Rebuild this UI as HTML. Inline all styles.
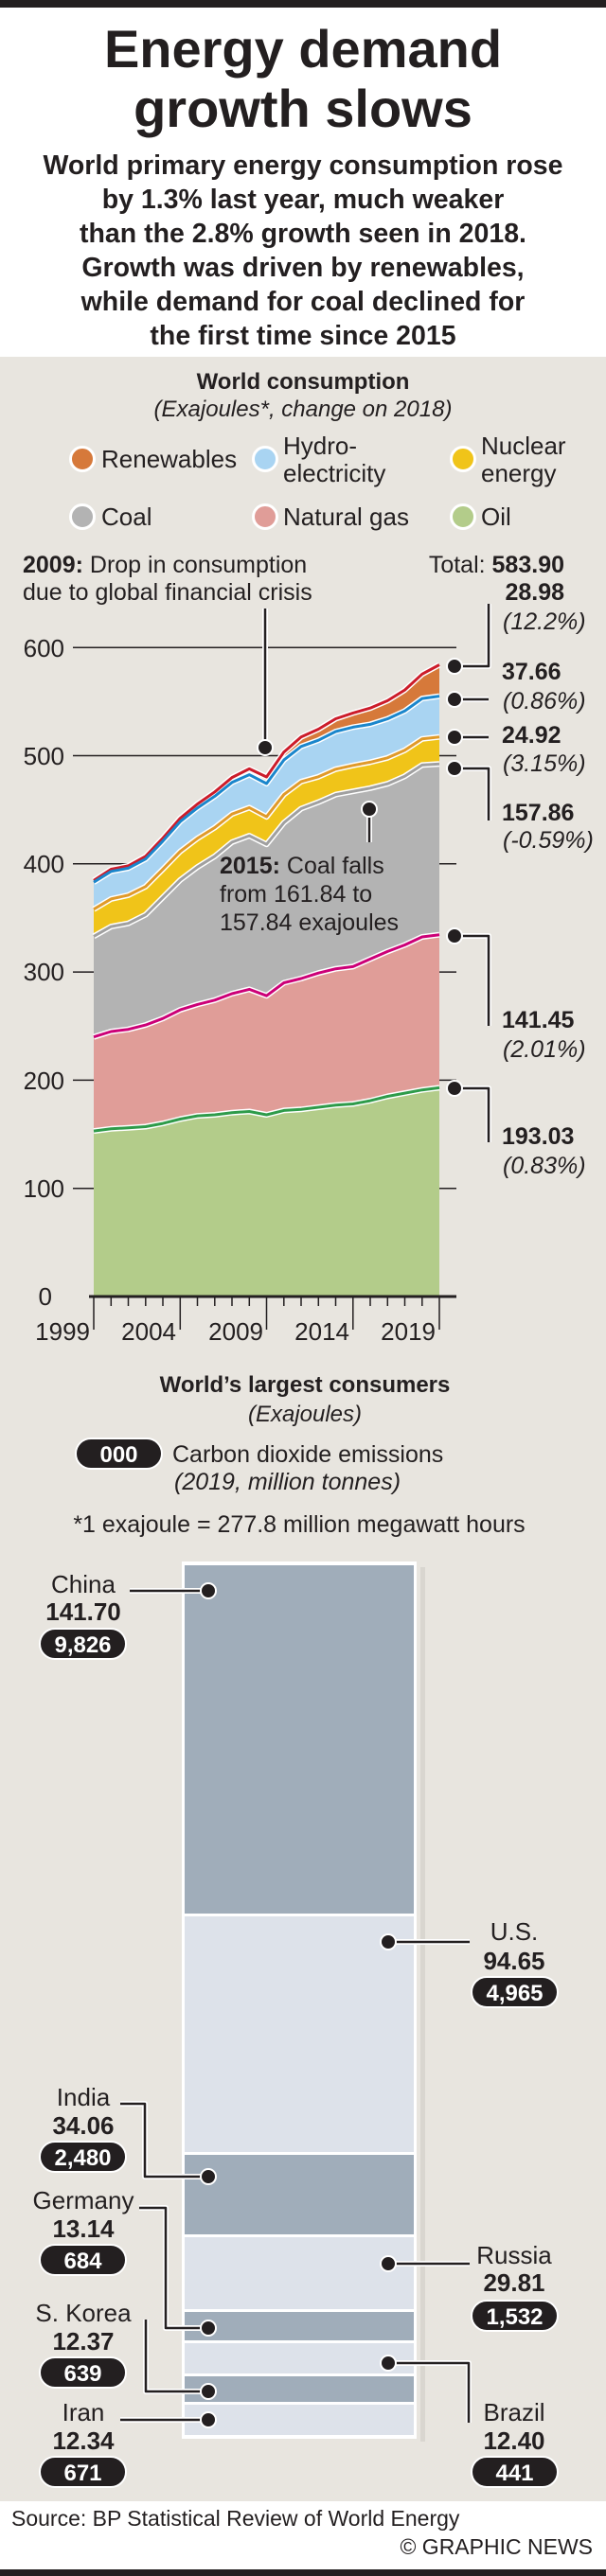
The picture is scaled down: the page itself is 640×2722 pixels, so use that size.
<!DOCTYPE html>
<html><head><meta charset="utf-8"><style>
html,body{margin:0;padding:0;background:#fff}
svg{display:block}
text{font-family:"Liberation Sans",Arial,sans-serif;fill:#231f20}
.b{font-weight:bold}
.i{font-style:italic}
</style></head><body>
<svg width="640" height="2722" viewBox="0 0 640 2722" xmlns="http://www.w3.org/2000/svg">
<rect x="0" y="0" width="640" height="2722" fill="#fff"/>
<rect x="0" y="0" width="640" height="8" fill="#231f20"/>
<rect x="0" y="377" width="640" height="2266" fill="#e8e5df"/>
<rect x="0" y="2715" width="640" height="7" fill="#231f20"/>

<!-- Title -->
<text x="320" y="71" text-anchor="middle" class="b" font-size="56">Energy demand</text>
<text x="320" y="134" text-anchor="middle" class="b" font-size="56">growth slows</text>
<g class="b" font-size="28.5" text-anchor="middle">
<text x="320" y="184" class="b">World primary energy consumption rose</text>
<text x="320" y="220" class="b">by 1.3% last year, much weaker</text>
<text x="320" y="256" class="b">than the 2.8% growth seen in 2018.</text>
<text x="320" y="292" class="b">Growth was driven by renewables,</text>
<text x="320" y="328" class="b">while demand for coal declined for</text>
<text x="320" y="364" class="b">the first time since 2015</text>
</g>

<!-- Chart header -->
<text x="320" y="411" text-anchor="middle" class="b" font-size="24">World consumption</text>
<text x="320" y="440" text-anchor="middle" class="i" font-size="24">(Exajoules*, change on 2018)</text>

<!-- Legend -->
<g stroke="#fff" stroke-width="3">
<circle cx="87" cy="485" r="12.5" fill="#d6793a"/>
<circle cx="280" cy="485" r="12.5" fill="#a9d4f2"/>
<circle cx="489" cy="485" r="12.5" fill="#f0c419"/>
<circle cx="87" cy="546" r="12.5" fill="#b3b3b3"/>
<circle cx="280" cy="546" r="12.5" fill="#e09d98"/>
<circle cx="489" cy="546" r="12.5" fill="#b3cc8a"/>
</g>
<g font-size="26">
<text x="107" y="494">Renewables</text>
<text x="299" y="480">Hydro-</text>
<text x="299" y="509">electricity</text>
<text x="508" y="480">Nuclear</text>
<text x="508" y="509">energy</text>
<text x="107" y="555">Coal</text>
<text x="299" y="555">Natural gas</text>
<text x="508" y="555">Oil</text>
</g>

<!-- annotations text -->
<g font-size="25">
<text x="24" y="605"><tspan class="b">2009:</tspan> Drop in consumption</text>
<text x="24" y="634">due to global financial crisis</text>
<text x="596" y="605" text-anchor="end">Total: <tspan class="b">583.90</tspan></text>
</g>

<!-- gridlines -->
<g stroke="#231f20" stroke-width="1.5">
<line x1="77" y1="684.2" x2="482" y2="684.2"/>
<line x1="77" y1="798.5" x2="482" y2="798.5"/>
<line x1="77" y1="912.8" x2="482" y2="912.8"/>
<line x1="77" y1="1027.1" x2="482" y2="1027.1"/>
<line x1="77" y1="1141.4" x2="482" y2="1141.4"/>
<line x1="77" y1="1255.7" x2="482" y2="1255.7"/>
</g>
<g font-size="26" text-anchor="end">
<text x="68" y="694">600</text>
<text x="68" y="808">500</text>
<text x="68" y="922">400</text>
<text x="68" y="1036">300</text>
<text x="68" y="1151">200</text>
<text x="68" y="1265">100</text>
<text x="55" y="1379">0</text>
</g>

<!-- areas -->
<path fill="#d6793a" d="M99,1370 L99,930.4 117.3,918.5 135.5,914.9 153.8,904.8 172,885.6 190.3,864.6 208.5,849.6 226.8,836.8 245,821.6 263.3,812.4 281.5,821 299.8,794.7 318,778.8 336.3,770.5 354.5,759.5 372.8,753.4 391,748.2 409.3,740.4 427.5,729.1 445.8,712.3 464,702.5 L464,1370 Z"/>
<path fill="#a9d4f2" d="M99,1370 L99,932.2 117.3,920.8 135.5,917.4 153.8,907.7 172,888.8 190.3,868.2 208.5,853.7 226.8,841.4 245,826.8 263.3,818.6 281.5,828 299.8,803.1 318,788.8 336.3,782.2 354.5,773 372.8,768.4 391,765.4 409.3,759.6 427.5,751.3 445.8,738.1 464,735.6 L464,1370 Z"/>
<path fill="#f0c419" d="M99,1370 L99,960.8 117.3,949.9 135.5,945.9 153.8,936.8 172,918.5 190.3,899.7 208.5,885.9 226.8,874.5 245,860.2 263.3,853.4 281.5,863.1 299.8,839.6 318,825.9 336.3,820.8 354.5,812.8 372.8,808.8 391,805.4 409.3,800.8 427.5,792.8 445.8,780.8 464,778.7 L464,1370 Z"/>
<path fill="#b3b3b3" d="M99,1370 L99,989.4 117.3,979.1 135.5,975.7 153.8,966.5 172,948.2 190.3,929.9 208.5,916.2 226.8,904.8 245,889.9 263.3,883.1 281.5,892.2 299.8,869.4 318,854.5 336.3,847.6 354.5,839.6 372.8,836.2 391,832.8 409.3,828.2 427.5,820.2 445.8,808.4 464,807.2 L464,1370 Z"/>
<path fill="#e09d98" d="M99,1370 L99,1095.7 117.3,1090 135.5,1087.7 153.8,1083.1 172,1076.2 190.3,1067.1 208.5,1061.4 226.8,1056.8 245,1050 263.3,1045.4 281.5,1052.2 299.8,1038.5 318,1034 336.3,1028.2 354.5,1023.7 372.8,1021.4 391,1013.4 409.3,1005.4 427.5,998.5 445.8,990 464,987.7 L464,1370 Z"/>
<path fill="#b3cc8a" d="M99,1370 L99,1195.1 117.3,1192.8 135.5,1191.7 153.8,1190.5 172,1187.1 190.3,1182.5 208.5,1179.1 226.8,1178 245,1175.7 263.3,1174.5 281.5,1178 299.8,1173.4 318,1172.3 336.3,1170 354.5,1167.7 372.8,1166.5 391,1163.1 409.3,1158.5 427.5,1155.1 445.8,1151.7 464,1149.4 L464,1370 Z"/>

<!-- lines -->
<g fill="none" stroke-linejoin="round">
<g stroke="#fff" stroke-width="6">
<polyline points="99,930.4 117.3,918.5 135.5,914.9 153.8,904.8 172,885.6 190.3,864.6 208.5,849.6 226.8,836.8 245,821.6 263.3,812.4 281.5,821 299.8,794.7 318,778.8 336.3,770.5 354.5,759.5 372.8,753.4 391,748.2 409.3,740.4 427.5,729.1 445.8,712.3 464,702.5"/>
<polyline points="99,932.2 117.3,920.8 135.5,917.4 153.8,907.7 172,888.8 190.3,868.2 208.5,853.7 226.8,841.4 245,826.8 263.3,818.6 281.5,828 299.8,803.1 318,788.8 336.3,782.2 354.5,773 372.8,768.4 391,765.4 409.3,759.6 427.5,751.3 445.8,738.1 464,735.6"/>
<polyline points="99,960.8 117.3,949.9 135.5,945.9 153.8,936.8 172,918.5 190.3,899.7 208.5,885.9 226.8,874.5 245,860.2 263.3,853.4 281.5,863.1 299.8,839.6 318,825.9 336.3,820.8 354.5,812.8 372.8,808.8 391,805.4 409.3,800.8 427.5,792.8 445.8,780.8 464,778.7"/>
<polyline points="99,989.4 117.3,979.1 135.5,975.7 153.8,966.5 172,948.2 190.3,929.9 208.5,916.2 226.8,904.8 245,889.9 263.3,883.1 281.5,892.2 299.8,869.4 318,854.5 336.3,847.6 354.5,839.6 372.8,836.2 391,832.8 409.3,828.2 427.5,820.2 445.8,808.4 464,807.2"/>
<polyline points="99,1095.7 117.3,1090 135.5,1087.7 153.8,1083.1 172,1076.2 190.3,1067.1 208.5,1061.4 226.8,1056.8 245,1050 263.3,1045.4 281.5,1052.2 299.8,1038.5 318,1034 336.3,1028.2 354.5,1023.7 372.8,1021.4 391,1013.4 409.3,1005.4 427.5,998.5 445.8,990 464,987.7"/>
<polyline points="99,1195.1 117.3,1192.8 135.5,1191.7 153.8,1190.5 172,1187.1 190.3,1182.5 208.5,1179.1 226.8,1178 245,1175.7 263.3,1174.5 281.5,1178 299.8,1173.4 318,1172.3 336.3,1170 354.5,1167.7 372.8,1166.5 391,1163.1 409.3,1158.5 427.5,1155.1 445.8,1151.7 464,1149.4"/>
</g>
<g stroke-width="3">
<polyline stroke="#cc1c2a" points="99,930.4 117.3,918.5 135.5,914.9 153.8,904.8 172,885.6 190.3,864.6 208.5,849.6 226.8,836.8 245,821.6 263.3,812.4 281.5,821 299.8,794.7 318,778.8 336.3,770.5 354.5,759.5 372.8,753.4 391,748.2 409.3,740.4 427.5,729.1 445.8,712.3 464,702.5"/>
<polyline stroke="#1a86cc" points="99,932.2 117.3,920.8 135.5,917.4 153.8,907.7 172,888.8 190.3,868.2 208.5,853.7 226.8,841.4 245,826.8 263.3,818.6 281.5,828 299.8,803.1 318,788.8 336.3,782.2 354.5,773 372.8,768.4 391,765.4 409.3,759.6 427.5,751.3 445.8,738.1 464,735.6"/>
<polyline stroke="#e09a2a" points="99,960.8 117.3,949.9 135.5,945.9 153.8,936.8 172,918.5 190.3,899.7 208.5,885.9 226.8,874.5 245,860.2 263.3,853.4 281.5,863.1 299.8,839.6 318,825.9 336.3,820.8 354.5,812.8 372.8,808.8 391,805.4 409.3,800.8 427.5,792.8 445.8,780.8 464,778.7"/>
<polyline stroke="#a0a0a0" points="99,989.4 117.3,979.1 135.5,975.7 153.8,966.5 172,948.2 190.3,929.9 208.5,916.2 226.8,904.8 245,889.9 263.3,883.1 281.5,892.2 299.8,869.4 318,854.5 336.3,847.6 354.5,839.6 372.8,836.2 391,832.8 409.3,828.2 427.5,820.2 445.8,808.4 464,807.2"/>
<polyline stroke="#cc0077" points="99,1095.7 117.3,1090 135.5,1087.7 153.8,1083.1 172,1076.2 190.3,1067.1 208.5,1061.4 226.8,1056.8 245,1050 263.3,1045.4 281.5,1052.2 299.8,1038.5 318,1034 336.3,1028.2 354.5,1023.7 372.8,1021.4 391,1013.4 409.3,1005.4 427.5,998.5 445.8,990 464,987.7"/>
<polyline stroke="#2e9b4a" points="99,1195.1 117.3,1192.8 135.5,1191.7 153.8,1190.5 172,1187.1 190.3,1182.5 208.5,1179.1 226.8,1178 245,1175.7 263.3,1174.5 281.5,1178 299.8,1173.4 318,1172.3 336.3,1170 354.5,1167.7 372.8,1166.5 391,1163.1 409.3,1158.5 427.5,1155.1 445.8,1151.7 464,1149.4"/>
</g>
</g>

<!-- x axis -->
<g stroke="#231f20">
<line x1="94" y1="1370" x2="482" y2="1370" stroke-width="3"/>
<g stroke-width="1.5">
<line x1="99" y1="1370" x2="99" y2="1405"/><line x1="190.3" y1="1370" x2="190.3" y2="1405"/><line x1="281.5" y1="1370" x2="281.5" y2="1405"/><line x1="372.8" y1="1370" x2="372.8" y2="1405"/><line x1="464" y1="1370" x2="464" y2="1405"/>
<line x1="117.3" y1="1370" x2="117.3" y2="1380"/><line x1="135.5" y1="1370" x2="135.5" y2="1380"/><line x1="153.8" y1="1370" x2="153.8" y2="1380"/><line x1="172" y1="1370" x2="172" y2="1380"/>
<line x1="208.5" y1="1370" x2="208.5" y2="1380"/><line x1="226.8" y1="1370" x2="226.8" y2="1380"/><line x1="245" y1="1370" x2="245" y2="1380"/><line x1="263.3" y1="1370" x2="263.3" y2="1380"/>
<line x1="299.8" y1="1370" x2="299.8" y2="1380"/><line x1="318" y1="1370" x2="318" y2="1380"/><line x1="336.3" y1="1370" x2="336.3" y2="1380"/><line x1="354.5" y1="1370" x2="354.5" y2="1380"/>
<line x1="391" y1="1370" x2="391" y2="1380"/><line x1="409.3" y1="1370" x2="409.3" y2="1380"/><line x1="427.5" y1="1370" x2="427.5" y2="1380"/><line x1="445.8" y1="1370" x2="445.8" y2="1380"/>
</g></g>
<g font-size="26" text-anchor="end">
<text x="95" y="1416">1999</text><text x="186" y="1416">2004</text><text x="278" y="1416">2009</text><text x="369" y="1416">2014</text><text x="460" y="1416">2019</text>
</g>

<!-- callouts -->
<g fill="none" stroke-linejoin="round">
<g stroke="#fff" stroke-width="6">
<polyline points="280,643 280,790"/>
<polyline points="390,855 390,890"/>
<polyline points="480,704 516,704 516,638"/>
<polyline points="480,739 516,739"/>
<polyline points="480,779 516,779"/>
<polyline points="480,812 516,812 516,867"/>
<polyline points="480,989 516,989 516,1084"/>
<polyline points="480,1150 516,1150 516,1207"/>
</g>
<g stroke="#231f20" stroke-width="2.5">
<polyline points="280,643 280,790"/>
<polyline points="390,855 390,890"/>
<polyline points="480,704 516,704 516,638"/>
<polyline points="480,739 516,739"/>
<polyline points="480,779 516,779"/>
<polyline points="480,812 516,812 516,867"/>
<polyline points="480,989 516,989 516,1084"/>
<polyline points="480,1150 516,1150 516,1207"/>
</g>
</g>
<g fill="#231f20" stroke="#fff" stroke-width="2">
<circle cx="280" cy="790" r="8"/><circle cx="390" cy="855" r="8"/>
<circle cx="480" cy="704" r="8"/><circle cx="480" cy="739" r="8"/><circle cx="480" cy="779" r="8"/><circle cx="480" cy="812" r="8"/><circle cx="480" cy="989" r="8"/><circle cx="480" cy="1150" r="8"/>
</g>
<g font-size="25">
<text x="232" y="923"><tspan class="b">2015:</tspan> Coal falls</text>
<text x="232" y="953">from 161.84 to</text>
<text x="232" y="983">157.84 exajoules</text>
<text x="596" y="634" text-anchor="end" class="b">28.98</text>
<text x="531" y="665" class="i">(12.2%)</text>
<text x="530" y="718" class="b">37.66</text>
<text x="531" y="749" class="i">(0.86%)</text>
<text x="530" y="785" class="b">24.92</text>
<text x="531" y="815" class="i">(3.15%)</text>
<text x="530" y="867" class="b">157.86</text>
<text x="531" y="896" class="i">(-0.59%)</text>
<text x="530" y="1086" class="b">141.45</text>
<text x="531" y="1117" class="i">(2.01%)</text>
<text x="530" y="1209" class="b">193.03</text>
<text x="531" y="1240" class="i">(0.83%)</text>
</g>

<!-- Section 2 -->
<text x="322" y="1471" text-anchor="middle" class="b" font-size="24">World’s largest consumers</text>
<text x="322" y="1502" text-anchor="middle" class="i" font-size="24">(Exajoules)</text>
<rect x="80" y="1520" width="91" height="32" rx="16" fill="#231f20" stroke="#fff" stroke-width="2"/>
<text x="125.5" y="1545" text-anchor="middle" class="b" font-size="24" style="fill:#fff">000</text>
<text x="182" y="1545" font-size="25">Carbon dioxide emissions</text>
<text x="184" y="1574" class="i" font-size="25">(2019, million tonnes)</text>
<text x="316" y="1619" text-anchor="middle" font-size="25">*1 exajoule = 277.8 million megawatt hours</text>

<rect x="444" y="1656" width="5" height="924" fill="#d9d6d0"/>
<rect x="192" y="1650" width="248" height="927" fill="#fff"/>
<rect x="195" y="1654" width="242" height="368" fill="#a0adba"/>
<rect x="195" y="2025" width="242" height="249" fill="#dde2ea"/>
<rect x="195" y="2277" width="242" height="84" fill="#a0adba"/>
<rect x="195" y="2364" width="242" height="76" fill="#dde2ea"/>
<rect x="195" y="2443" width="242" height="30" fill="#a0adba"/>
<rect x="195" y="2476" width="242" height="32" fill="#dde2ea"/>
<rect x="195" y="2511" width="242" height="27" fill="#a0adba"/>
<rect x="195" y="2541" width="242" height="32" fill="#dde2ea"/>

<g fill="none" stroke-linejoin="round">
<g stroke="#fff" stroke-width="6">
<polyline points="137,1681 220,1681"/>
<polyline points="410,2052 496,2052"/>
<polyline points="127,2223 153,2223 153,2300 220,2300"/>
<polyline points="147,2333 175,2333 175,2460 220,2460"/>
<polyline points="410,2392 496,2392"/>
<polyline points="154,2451 154,2527 220,2527"/>
<polyline points="410,2497 495,2497 495,2560"/>
<polyline points="127,2557 220,2557"/>
</g>
<g stroke="#231f20" stroke-width="2.5">
<polyline points="137,1681 220,1681"/>
<polyline points="410,2052 496,2052"/>
<polyline points="127,2223 153,2223 153,2300 220,2300"/>
<polyline points="147,2333 175,2333 175,2460 220,2460"/>
<polyline points="410,2392 496,2392"/>
<polyline points="154,2451 154,2527 220,2527"/>
<polyline points="410,2497 495,2497 495,2560"/>
<polyline points="127,2557 220,2557"/>
</g>
</g>
<g fill="#231f20" stroke="#fff" stroke-width="2">
<circle cx="220" cy="1681" r="8"/><circle cx="410" cy="2052" r="8"/><circle cx="220" cy="2300" r="8"/><circle cx="410" cy="2392" r="8"/><circle cx="220" cy="2460" r="8"/><circle cx="410" cy="2497" r="8"/><circle cx="220" cy="2527" r="8"/><circle cx="220" cy="2557" r="8"/>
</g>

<g fill="#231f20" stroke="#fff" stroke-width="2">
<rect x="42" y="1721" width="91" height="32" rx="16"/>
<rect x="498" y="2089" width="91" height="32" rx="16"/>
<rect x="42" y="2263" width="91" height="32" rx="16"/>
<rect x="42" y="2372" width="91" height="32" rx="16"/>
<rect x="498" y="2431" width="91" height="32" rx="16"/>
<rect x="42" y="2491" width="91" height="32" rx="16"/>
<rect x="42" y="2596" width="91" height="32" rx="16"/>
<rect x="498" y="2596" width="91" height="32" rx="16"/>
</g>
<g font-size="26" text-anchor="middle">
<text x="88" y="1683">China</text><text x="88" y="1712" class="b">141.70</text>
<text x="543" y="2050">U.S.</text><text x="543" y="2081" class="b">94.65</text>
<text x="88" y="2225">India</text><text x="88" y="2255" class="b">34.06</text>
<text x="88" y="2334">Germany</text><text x="88" y="2364" class="b">13.14</text>
<text x="543" y="2392">Russia</text><text x="543" y="2421" class="b">29.81</text>
<text x="88" y="2453">S. Korea</text><text x="88" y="2483" class="b">12.37</text>
<text x="543" y="2558">Brazil</text><text x="543" y="2588" class="b">12.40</text>
<text x="88" y="2558">Iran</text><text x="88" y="2588" class="b">12.34</text>
</g>
<g font-size="24" text-anchor="middle" class="b" style="fill:#fff">
<text x="87.5" y="1746" style="fill:#fff">9,826</text>
<text x="543.5" y="2114" style="fill:#fff">4,965</text>
<text x="87.5" y="2288" style="fill:#fff">2,480</text>
<text x="87.5" y="2397" style="fill:#fff">684</text>
<text x="543.5" y="2456" style="fill:#fff">1,532</text>
<text x="87.5" y="2516" style="fill:#fff">639</text>
<text x="87.5" y="2621" style="fill:#fff">671</text>
<text x="543.5" y="2621" style="fill:#fff">441</text>
</g>

<!-- footer -->
<text x="12" y="2669" font-size="23">Source: BP Statistical Review of World Energy</text>
<text x="626" y="2699" text-anchor="end" font-size="23">© GRAPHIC NEWS</text>
</svg>
</body></html>
